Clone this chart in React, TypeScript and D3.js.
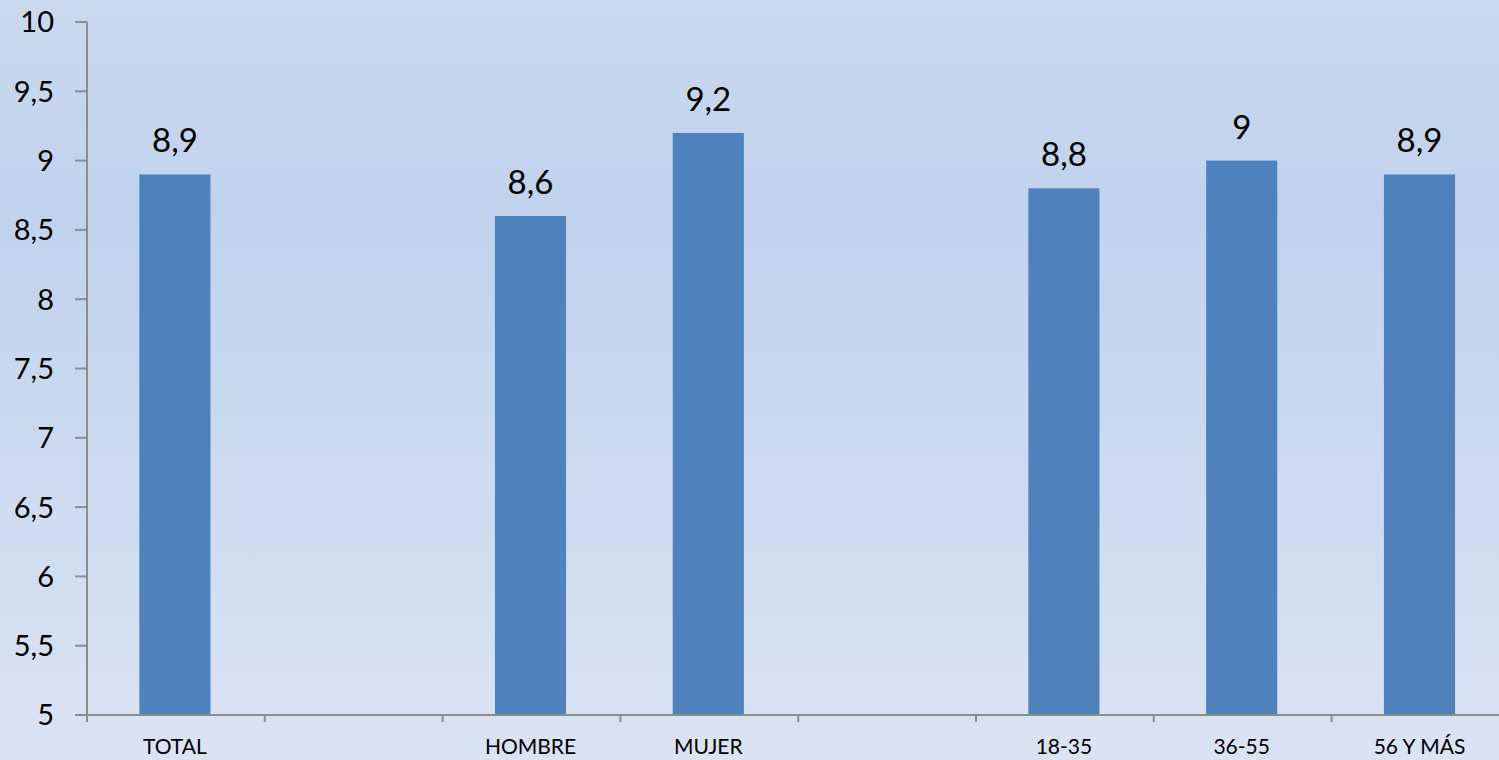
import React, { useEffect, useRef } from "react";
import * as d3 from "d3";

// categories (blank ones are empty gaps on the axis)
const categories = ["TOTAL", "", "HOMBRE", "MUJER", "", "18-35", "36-55", "56 Y MÁS"];
const values: (number | null)[] = [8.9, null, 8.6, 9.2, null, 8.8, 9, 8.9];
const yTicks = [5, 5.5, 6, 6.5, 7, 7.5, 8, 8.5, 9, 9.5, 10];

const W = 1499;
const H = 760;

const App = () => {
  const ref = useRef<SVGSVGElement>(null);

  useEffect(() => {
    draw();
  }, []);

  const draw = () => {
    const svg = d3.select(ref.current);
    svg.selectAll("*").remove();

    const left = 87;
    const step = 177.8;
    const top = 22;
    const bottom = 715;

    const fmt = d3.formatLocale({ decimal: ",", thousands: ".", grouping: [3], currency: ["", "€"] }).format(".1~f");

    // background gradient
    const grad = svg
      .append("defs")
      .append("linearGradient")
      .attr("id", "bg")
      .attr("x1", 0)
      .attr("y1", 0)
      .attr("x2", 0)
      .attr("y2", 1);
    grad.append("stop").attr("offset", "0%").attr("stop-color", "#cbd9ef");
    grad.append("stop").attr("offset", "27%").attr("stop-color", "#c1d2ed");
    grad.append("stop").attr("offset", "100%").attr("stop-color", "#dae3f3");
    svg.append("rect").attr("width", W).attr("height", H).attr("fill", "url(#bg)");

    const x = d3
      .scaleBand<string>()
      .domain(categories.map((_, i) => String(i)))
      .range([left, left + step * categories.length])
      .paddingInner(0.6)
      .paddingOuter(0.3);

    const y = d3.scaleLinear().domain([5, 10]).range([bottom, top]);

    const font = "Lato, 'Open Sans', sans-serif";

    // bars
    const g = svg.append("g");
    g.selectAll("rect.bar")
      .data(values.map((v, i) => ({ v, i })).filter((d) => d.v !== null))
      .enter()
      .append("rect")
      .attr("class", "bar")
      .attr("x", (d) => (x(String(d.i)) as number) - 1)
      .attr("width", x.bandwidth())
      .attr("y", (d) => y(d.v as number))
      .attr("height", (d) => bottom - y(d.v as number))
      .attr("fill", "#4f81bd");

    // value labels
    g.selectAll("text.val")
      .data(values.map((v, i) => ({ v, i })).filter((d) => d.v !== null))
      .enter()
      .append("text")
      .attr("class", "val")
      .attr("x", (d) => (x(String(d.i)) as number) - 1 + x.bandwidth() / 2)
      .attr("y", (d) => y(d.v as number) - 22)
      .attr("text-anchor", "middle")
      .attr("font-family", font)
      .attr("font-size", 33)
      .attr("fill", "#000")
      .text((d) => fmt(d.v as number));

    const axisColor = "#8c8c8c";

    // y axis
    svg
      .append("line")
      .attr("x1", left)
      .attr("x2", left)
      .attr("y1", top)
      .attr("y2", bottom + 7)
      .attr("stroke", axisColor)
      .attr("stroke-width", 2);
    svg
      .selectAll("line.ytick")
      .data(yTicks)
      .enter()
      .append("line")
      .attr("x1", left - 12)
      .attr("x2", left)
      .attr("y1", (d) => y(d))
      .attr("y2", (d) => y(d))
      .attr("stroke", axisColor)
      .attr("stroke-width", 2);
    svg
      .selectAll("text.ytick")
      .data(yTicks)
      .enter()
      .append("text")
      .attr("x", 54)
      .attr("y", (d) => y(d))
      .attr("dy", "0.36em")
      .attr("text-anchor", "end")
      .attr("font-family", font)
      .attr("font-size", 29)
      .attr("fill", "#000")
      .text((d) => fmt(d));

    // x axis
    svg
      .append("line")
      .attr("x1", left)
      .attr("x2", W)
      .attr("y1", bottom)
      .attr("y2", bottom)
      .attr("stroke", axisColor)
      .attr("stroke-width", 2);
    svg
      .selectAll("line.xtick")
      .data(d3.range(1, categories.length + 1))
      .enter()
      .append("line")
      .attr("x1", (i) => left + i * x.step())
      .attr("x2", (i) => left + i * x.step())
      .attr("y1", bottom)
      .attr("y2", bottom + 7)
      .attr("stroke", axisColor)
      .attr("stroke-width", 2);
    svg
      .selectAll("text.xlab")
      .data(categories.map((c, i) => ({ c, i })).filter((d) => d.c !== ""))
      .enter()
      .append("text")
      .attr("x", (d) => (x(String(d.i)) as number) - 1 + x.bandwidth() / 2)
      .attr("y", 754)
      .attr("text-anchor", "middle")
      .attr("font-family", font)
      .attr("font-size", 21)
      .attr("fill", "#000")
      .text((d) => d.c);
  };

  return (
    <svg
      ref={ref}
      width={W}
      height={H}
      style={{ position: "fixed", left: 0, top: 0, display: "block" }}
    />
  );
};

export default App;
